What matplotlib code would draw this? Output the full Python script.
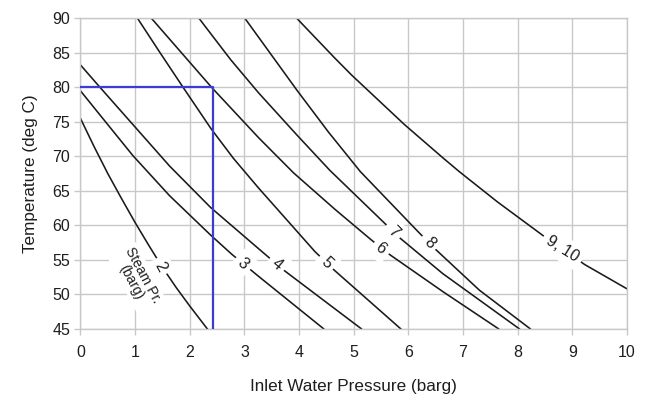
import matplotlib
matplotlib.use("Agg")
import matplotlib.pyplot as plt

plt.rcParams['font.family'] = ['Liberation Sans', 'DejaVu Sans']

# ---- data (x = inlet water pressure barg, y = temperature deg C)
c2_x = [0.0, 0.25, 0.5, 0.75, 1.0, 1.25, 1.5, 1.75, 2.0, 2.32]
c2_y = [75.5, 71.4, 67.5, 63.9, 60.4, 57.1, 53.9, 51.0, 48.3, 45.0]

c3_x = [0.0, 0.5, 0.96, 1.63, 2.38, 2.77, 3.26, 4.45]
c3_y = [79.5, 74.6, 70.1, 64.3, 58.6, 55.8, 52.6, 45.0]

c4_x = [0.0, 0.35, 1.63, 2.38, 3.32, 3.72, 5.14]
c4_y = [83.25, 80.07, 68.6, 62.6, 56.2, 53.5, 45.0]

c5_x = [1.045, 1.45, 1.87, 2.39, 2.80, 3.26, 4.29, 4.63, 5.86]
c5_y = [90.0, 85.1, 80.1, 74.0, 69.7, 65.4, 56.2, 53.6, 45.0]

c6_x = [1.30, 2.40, 3.26, 3.90, 4.66, 5.32, 5.66, 6.63, 7.65]
c6_y = [90.0, 80.0, 72.7, 67.6, 62.3, 57.9, 55.75, 50.4, 45.0]

c7_x = [2.17, 2.75, 3.26, 3.96, 4.56, 5.54, 5.84, 6.63, 8.03]
c7_y = [90.0, 84.0, 79.2, 73.1, 68.0, 60.5, 58.2, 53.0, 45.0]

c8_x = [3.01, 3.54, 3.96, 4.54, 5.12, 6.20, 6.50, 7.30, 8.23]
c8_y = [90.0, 84.2, 79.6, 73.5, 67.8, 58.9, 56.5, 50.6, 45.0]

c9_x = [3.96, 4.66, 4.96, 5.93, 6.63, 6.93, 7.63, 8.45, 9.23, 10.0]
c9_y = [90.0, 84.2, 81.8, 74.6, 69.8, 67.8, 63.4, 58.6, 54.3, 50.8]

curve_labels = ["2", "3", "4", "5", "6", "7", "8", "9, 10"]
label_x = [1.46, 2.97, 3.60, 4.50, 5.50, 5.72, 6.38, 8.82]
label_y = [54.0, 54.4, 54.4, 54.6, 56.6, 59.1, 57.5, 56.6]
label_rot = [-62, -43, -40, -44, -39, -45, -45, -32]

# example reading (blue guide line)
guide_x = [0.0, 2.42, 2.42]
guide_y = [80.0, 80.0, 45.0]

x_ticks = list(range(0, 11))
y_ticks = list(range(45, 91, 5))

# ---- figure
fig = plt.figure(figsize=(6.49, 4.0), dpi=100)
ax = fig.add_axes([0.124, 0.178, 0.842, 0.776])

grid_col = '#c8c8c8'
ax.set_xlim(0, 10)
ax.set_ylim(45, 90)
ax.set_xticks(x_ticks)
ax.set_yticks(y_ticks)
ax.grid(True, color=grid_col, lw=1.0, zorder=0)
ax.set_axisbelow(True)
for s in ax.spines.values():
    s.set_color(grid_col)
    s.set_linewidth(1.0)
ax.tick_params(axis='both', colors=grid_col, length=4, width=1.0, labelcolor='#1e1e1e',
               labelsize=11.5)
ax.tick_params(axis='x', pad=8)
ax.tick_params(axis='y', pad=3.5)

curves = [(c2_x, c2_y), (c3_x, c3_y), (c4_x, c4_y), (c5_x, c5_y),
          (c6_x, c6_y), (c7_x, c7_y), (c8_x, c8_y), (c9_x, c9_y)]
for cx, cy in curves:
    ax.plot(cx, cy, color='#1a1a1a', lw=1.15, zorder=2, clip_on=True,
            solid_joinstyle='round')

ax.plot(guide_x, guide_y, color='#3c3cd4', lw=1.6, zorder=3)

for t, lx, ly, r in zip(curve_labels, label_x, label_y, label_rot):
    ax.text(lx, ly, t, rotation=r, rotation_mode='anchor', ha='center', va='center',
            fontsize=11.5, color='#1e1e1e', zorder=4,
            bbox=dict(boxstyle='square,pad=0.3', fc='white', ec='none'))

ax.text(1.03, 52.3, "Steam Pr.\n(barg)", rotation=-62, rotation_mode='anchor',
        ha='center', va='center', fontsize=10, color='#1e1e1e', zorder=4,
        linespacing=1.0,
        bbox=dict(boxstyle='square,pad=0.15', fc='white', ec='none'))

ax.set_xlabel("Inlet Water Pressure (barg)", fontsize=12.3, color='#1e1e1e', labelpad=13)
ax.set_ylabel("Temperature (deg C)", fontsize=12.3, color='#1e1e1e', labelpad=10)

fig.savefig("out.png", dpi=100)
